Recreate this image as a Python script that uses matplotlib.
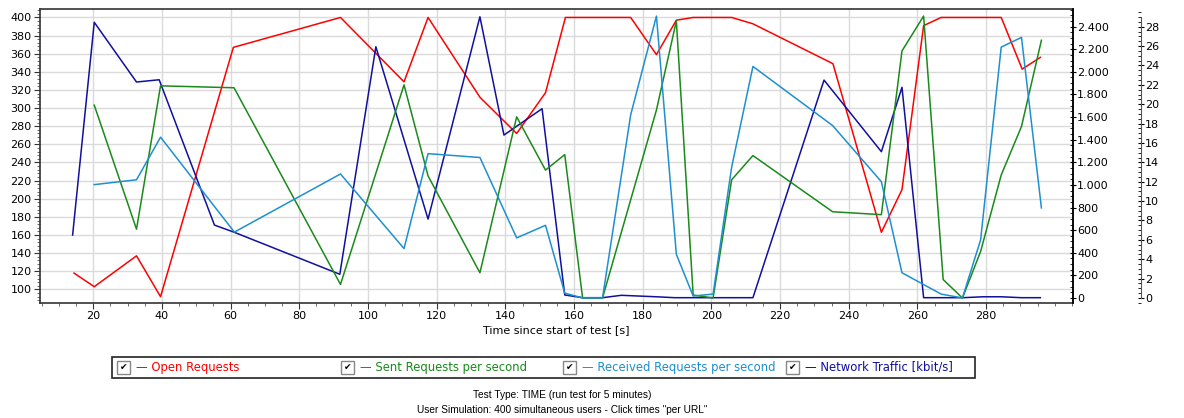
import matplotlib
matplotlib.use("Agg")
import matplotlib.pyplot as plt
from matplotlib.ticker import MultipleLocator, FuncFormatter
from matplotlib.patches import Rectangle

# Open Requests (left axis)
open_t = [14.4, 20.3, 32.6, 39.6, 60.8, 92.0, 110.5, 117.5, 132.6, 143.3, 151.7,
          157.5, 176.5, 184.0, 189.8, 194.7, 205.9, 212.1, 235.4, 249.5, 255.5,
          261.8, 266.9, 284.4, 290.5, 295.8]
open_req = [118, 103, 137, 92, 367, 400, 329, 400, 312, 272, 317,
            400, 400, 359, 397, 400, 400, 393, 349, 163, 210,
            391, 400, 400, 343, 356]

# Sent / Received Requests per second (right axis 0..28)
sent_t = [20.3, 32.6, 39.6, 61.0, 92.0, 110.5, 117.5, 132.6, 143.3, 151.7, 157.3,
          162.5, 168.3, 184.0, 189.8, 194.7, 200.5, 205.9, 212.1, 235.3, 249.5,
          255.5, 261.8, 267.5, 273.1, 278.4, 284.4, 290.3, 296.1]
sent = [19.9, 7.1, 21.9, 21.7, 1.4, 22.0, 12.6, 2.6, 18.7, 13.2, 14.8,
        0, 0, 19.4, 28.6, 0.3, 0, 12.2, 14.7, 8.9, 8.6,
        25.5, 29.1, 1.9, 0, 4.8, 12.7, 17.7, 26.6]

recv_t = [20.3, 32.6, 39.6, 61.1, 92.0, 110.5, 117.5, 132.6, 143.3, 151.7, 157.3,
          162.5, 168.3, 176.5, 184.0, 189.8, 194.7, 200.5, 205.9, 212.1, 235.3,
          249.5, 255.5, 266.9, 273.1, 278.4, 284.4, 290.3, 296.1]
recv = [11.7, 12.2, 16.6, 6.8, 12.8, 5.1, 14.9, 14.5, 6.2, 7.5, 0.5,
        0, 0, 18.9, 29.1, 4.5, 0.2, 0.4, 13.5, 23.9, 17.8,
        12.0, 2.6, 0.4, 0, 6.0, 25.9, 26.9, 9.3]

# Network Traffic [kbit/s] (right axis 0..2400)
net_t = [14.0, 20.3, 32.6, 39.2, 55.3, 61.1, 91.8, 102.3, 117.5, 132.6, 139.6,
         150.7, 157.3, 162.5, 168.3, 173.8, 184.0, 189.3, 194.7, 200.5, 212.1,
         232.8, 249.5, 255.5, 261.8, 273.3, 279.1, 284.4, 290.3, 295.8]
net = [557, 2438, 1910, 1930, 645, 581, 210, 2222, 698, 2487, 1441,
       1674, 27, 3, 3, 24, 11, 3, 3, 3, 3,
       1927, 1294, 1863, 3, 3, 11, 11, 3, 3]

labels = ["Open Requests", "Sent Requests per second",
          "Received Requests per second", "Network Traffic [kbit/s]"]
colors = ["#ff0000", "#1a8a1a", "#1e8fd0", "#10109e"]

W, H = 1184, 418
fig = plt.figure(figsize=(W / 100, H / 100), dpi=100)
fig.patch.set_facecolor("white")

ax = fig.add_axes([40 / W, 1 - 303 / H, (1073 - 40) / W, (303 - 9.3) / H])
ax.set_xlim(4.5, 305.3)
ax.set_ylim(85, 409)
ax.grid(True, color="#dadada", lw=1)
ax.set_axisbelow(True)
ax.xaxis.set_minor_locator(MultipleLocator(5))
ax.yaxis.set_minor_locator(MultipleLocator(4))
ax.set_xticks(range(20, 300, 20))
ax.set_yticks(range(100, 401, 20))
ax.tick_params(axis="both", which="major", labelsize=8, length=4, color="#333333", pad=2)
ax.tick_params(axis="both", which="minor", length=2, color="#555555")
for s in ax.spines.values():
    s.set_color("#333333")
    s.set_linewidth(1.2)
ax.set_xlabel("Time since start of test [s]", fontsize=8, labelpad=3)

ax_net = ax.twinx()
ax_net.set_ylim(-44, 2553)
ax_net.yaxis.set_minor_locator(MultipleLocator(50))
ax_net.set_yticks(range(0, 2401, 200))
ax_net.yaxis.set_major_formatter(FuncFormatter(lambda v, p: f"{int(v):,}".replace(",", ".")))
ax_net.tick_params(axis="y", which="major", labelsize=8, length=4, direction="inout", pad=1)
ax_net.tick_params(axis="y", which="minor", length=2, direction="in")
for s in ax_net.spines.values():
    s.set_visible(False)
ax_net.spines["right"].set_visible(True)
ax_net.spines["right"].set_linewidth(1.2)

ax_req = ax.twinx()
ax_req.set_ylim(-0.52, 29.8)
ax_req.spines["right"].set_position(("axes", (1141 - 40) / (1073 - 40)))
for s in ax_req.spines.values():
    s.set_visible(False)
ax_req.spines["right"].set_visible(True)
ax_req.spines["right"].set_bounds(0, 29)
ax_req.spines["right"].set_color("#555555")
ax_req.set_yticks(range(0, 29, 2))
ax_req.yaxis.set_minor_locator(MultipleLocator(0.5))
ax_req.tick_params(axis="y", which="major", labelsize=8, length=4, direction="inout", pad=1)
ax_req.tick_params(axis="y", which="minor", length=2, direction="in")

ax.plot(open_t, open_req, color=colors[0], lw=1.1)
ax_req.plot(sent_t, sent, color=colors[1], lw=1.1)
ax_req.plot(recv_t, recv, color=colors[2], lw=1.1)
ax_net.plot(net_t, net, color=colors[3], lw=1.1)

# legend box with check boxes
def px(x, y):
    return x / W, 1 - y / H

x0, y0 = px(112, 378)
fig.add_artist(Rectangle((x0, y0), (975 - 112) / W, 21.5 / H, transform=fig.transFigure,
                         fill=False, edgecolor="#222222", lw=1.2))
entry_x = [117, 341, 563, 786]
for ex, lab, c in zip(entry_x, labels, colors):
    bx, by = px(ex, 374)
    fig.add_artist(Rectangle((bx, by), 13 / W, 13 / H, transform=fig.transFigure,
                             facecolor="white", edgecolor="#888888", lw=1))
    fig.text(*px(ex + 6.5, 367.5), "\u2714", fontsize=6.5, ha="center", va="center", color="black")
    fig.text(*px(ex + 19, 367.5), "\u2014 " + lab, fontsize=8.4, ha="left", va="center", color=c)

fig.text(*px(562, 395), "Test Type: TIME (run test for 5 minutes)", fontsize=7.3,
         family="Liberation Sans", ha="center", va="center")
fig.text(*px(562, 410), 'User Simulation: 400 simultaneous users - Click times "per URL"',
         fontsize=7.3, family="Liberation Sans", ha="center", va="center")

fig.savefig("out.png", dpi=100)
